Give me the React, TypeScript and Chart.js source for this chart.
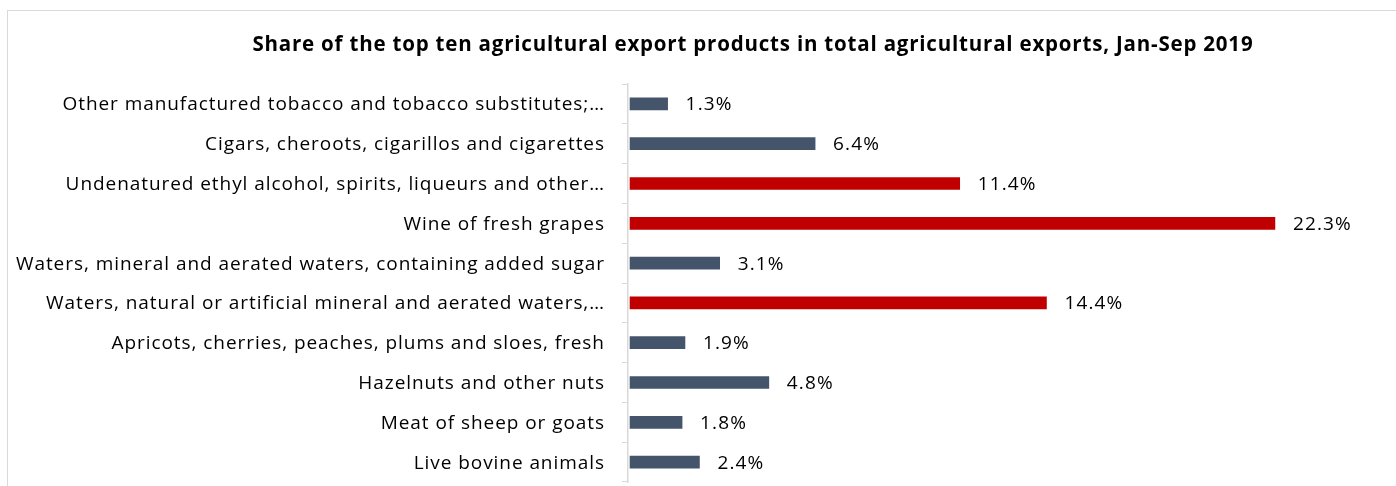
import React, { useEffect, useRef } from "react";
import { Chart, registerables } from "chart.js";

Chart.register(...registerables);

const categories = [
  "Other manufactured tobacco and tobacco substitutes;…",
  "Cigars, cheroots, cigarillos and cigarettes",
  "Undenatured ethyl alcohol, spirits, liqueurs and other…",
  "Wine of fresh grapes",
  "Waters, mineral and aerated waters, containing added sugar",
  "Waters, natural or artificial mineral and aerated waters,…",
  "Apricots, cherries, peaches, plums and sloes, fresh",
  "Hazelnuts and other nuts",
  "Meat of sheep or goats",
  "Live bovine animals",
];
const shares = [1.3, 6.4, 11.4, 22.3, 3.1, 14.4, 1.9, 4.8, 1.8, 2.4];
const highlighted = [false, false, true, true, false, true, false, false, false, false];
const title =
  "Share of the top ten agricultural export products in total agricultural exports, Jan-Sep 2019";

const FONT = "'Open Sans', 'Noto Sans', sans-serif";
const DARK = "#44546A";
const RED = "#C00000";

// width of reference text runs, used to tune letter spacing of the substitute font
function spacingFor(ctx: CanvasRenderingContext2D, text: string, target: number) {
  (ctx as any).letterSpacing = "0px";
  const w = ctx.measureText(text).width;
  return Math.max(-1, (target - w) / text.length);
}

export default function App() {
  const ref = useRef<HTMLCanvasElement | null>(null);
  useEffect(() => {
    document.body.style.margin = "0";
    const canvas = ref.current;
    if (!canvas) return;
    const textPlugin = {
      id: "texts",
      afterDraw(chart: any) {
        const ctx = chart.ctx as CanvasRenderingContext2D;
        const meta = chart.getDatasetMeta(0);
        const yScale = chart.scales.y;
        ctx.save();
        ctx.fillStyle = "#000";
        ctx.textBaseline = "middle";

        // category labels
        ctx.font = `19px ${FONT}`;
        const ls = spacingFor(ctx, categories[4], 589);
        (ctx as any).letterSpacing = `${ls}px`;
        ctx.textAlign = "right";
        categories.forEach((c, i) => {
          ctx.fillText(c, 604 + ls, yScale.getPixelForTick(i) + 1);
        });

        // value labels
        const vs = spacingFor(ctx, "22.3%", 59);
        (ctx as any).letterSpacing = `${vs}px`;
        ctx.textAlign = "left";
        meta.data.forEach((bar: any, i: number) => {
          ctx.fillText(shares[i].toFixed(1) + "%", bar.x + 18, bar.y + 1);
        });

        // title
        ctx.font = `bold 20.5px ${FONT}`;
        const ts = spacingFor(ctx, title, 1001);
        (ctx as any).letterSpacing = `${ts}px`;
        ctx.textAlign = "center";
        ctx.fillText(title, 752.5 + ts / 2, 45);
        ctx.restore();
      },
    };
    const chart = new Chart(canvas, {
      type: "bar",
      data: {
        labels: categories,
        datasets: [
          {
            data: shares,
            backgroundColor: highlighted.map((h) => (h ? RED : DARK)),
            barThickness: 12,
          },
        ],
      },
      options: {
        indexAxis: "y",
        animation: false,
        responsive: false,
        maintainAspectRatio: false,
        layout: { padding: { top: 84, bottom: 4, right: 43, left: 0 } },
        plugins: {
          legend: { display: false },
          tooltip: { enabled: false },
          title: { display: false },
        },
        scales: {
          x: {
            display: false,
            min: -0.07,
            max: 25,
          },
          y: {
            afterFit(scale: any) {
              scale.width = 628;
              scale.paddingTop = 0;
              scale.paddingBottom = 0;
            },
            grid: {
              offset: true,
              drawOnChartArea: false,
              tickLength: 6,
              color: "#D9D9D9",
            },
            border: { color: "#D9D9D9", width: 1.5 },
            ticks: {
              display: false,
              autoSkip: false,
            },
          },
        },
      },
      plugins: [textPlugin],
    });
    return () => chart.destroy();
  }, []);
  return (
    <div style={{ position: "relative", width: 1396, height: 486, overflow: "hidden", background: "#fff" }}>
      <div
        style={{
          position: "absolute",
          left: 7,
          top: 10,
          width: 1400,
          height: 500,
          border: "1.5px solid #D9D9D9",
          boxSizing: "border-box",
        }}
      />
      <canvas ref={ref} width={1396} height={486} style={{ position: "absolute", left: 0, top: 0, display: "block" }} />
    </div>
  );
}
